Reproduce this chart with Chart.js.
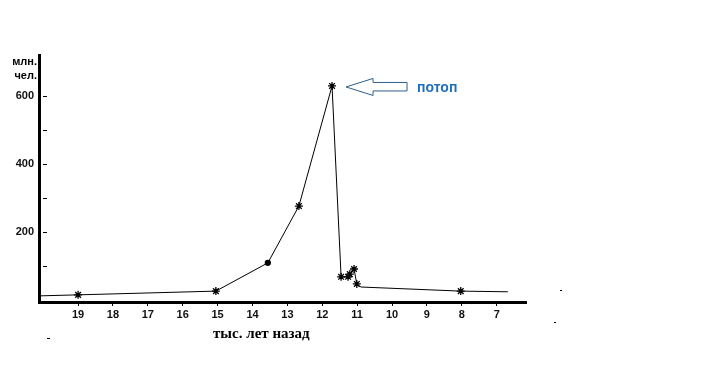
<!DOCTYPE html>
<html>
<head>
<meta charset="utf-8">
<script src="https://cdn.jsdelivr.net/npm/chart.js@4/dist/chart.umd.min.js"></script>
<style>
  html, body { margin: 0; padding: 0; background: #fff; }
  #wrap { width: 712px; height: 376px; }
</style>
</head>
<body>
<div id="wrap"><canvas id="chart" width="712" height="376"></canvas></div>
<script>
// thousand years ago (x) and population, mln (y)
const years = [20.12, 19, 15.05, 13.56, 12.67, 11.72, 11.46, 11.26, 11.21, 11.09, 11.01, 10.89, 8.03, 6.68]
const population = [12, 15, 26, 109, 276, 629, 68, 68, 76, 91, 47, 38, 26, 24]
const xTickLabels = [19, 18, 17, 16, 15, 14, 13, 12, 11, 10, 9, 8, 7]
const yTickValues = [100, 200, 300, 400, 500, 600]
const yLabelled = [200, 400, 600]

const unmarked = [0, 11, 13]
const dotMarked = [3]
const peakIndex = population.indexOf(Math.max(...population))

const decorations = {
  id: 'decorations',
  afterDraw (chart) {
    const { ctx, scales } = chart
    const y = scales.y
    const x = scales.x
    ctx.save()

    // short tick dashes right of the y axis
    ctx.fillStyle = '#000'
    yTickValues.forEach(v => {
      const py = Math.round(y.getPixelForValue(v))
      ctx.fillRect(43, py, 4, 1)
    })

    // axis unit
    ctx.font = 'bold 11px "Liberation Sans", Arial, sans-serif'
    ctx.textAlign = 'right'
    ctx.textBaseline = 'middle'
    ctx.fillText('млн.', 37, 62)
    ctx.fillText('чел.', 37, 76)

    // x axis title
    ctx.font = 'bold 15px "Liberation Serif", "Times New Roman", serif'
    ctx.textAlign = 'left'
    ctx.fillText('тыс. лет назад', 213, 334)

    // stray marks
    ctx.fillRect(47, 338, 3, 1)
    ctx.fillRect(560, 290, 2, 1)
    ctx.fillRect(554, 322, 2, 1)

    // arrow pointing at the peak
    const tipX = x.getPixelForValue(years[peakIndex]) + 14
    const tipY = y.getPixelForValue(population[peakIndex]) + 1
    ctx.strokeStyle = '#2f5f8c'
    ctx.lineWidth = 1
    ctx.beginPath()
    ctx.moveTo(tipX, tipY)
    ctx.lineTo(tipX + 27, tipY - 8.5)
    ctx.lineTo(tipX + 27, tipY - 4.5)
    ctx.lineTo(tipX + 61, tipY - 4.5)
    ctx.lineTo(tipX + 61, tipY + 4)
    ctx.lineTo(tipX + 27, tipY + 4)
    ctx.lineTo(tipX + 27, tipY + 8.5)
    ctx.closePath()
    ctx.stroke()

    ctx.fillStyle = '#1f6fbf'
    ctx.font = 'bold 14px "Liberation Sans", Arial, sans-serif'
    ctx.textAlign = 'left'
    ctx.fillText('потоп', tipX + 71, tipY + 1)

    ctx.restore()
  }
}

const points = years.map((t, i) => ({ x: t, y: population[i] }))

new Chart(document.getElementById('chart'), {
  type: 'line',
  data: {
    datasets: [{
      data: points,
      borderColor: '#000',
      borderWidth: 1,
      tension: 0,
      pointStyle: ctx => dotMarked.includes(ctx.dataIndex) ? 'circle' : 'star',
      pointRadius: ctx => unmarked.includes(ctx.dataIndex) ? 0 : (dotMarked.includes(ctx.dataIndex) ? 2.5 : 4),
      pointBorderWidth: 1.3,
      pointBorderColor: '#000',
      pointBackgroundColor: '#000'
    }]
  },
  options: {
    responsive: false,
    animation: false,
    layout: {
      padding: { left: 0, right: 186, top: 55, bottom: 44 }
    },
    scales: {
      x: {
        type: 'linear',
        reverse: true,
        min: 6.16,
        max: 20.12,
        afterBuildTicks: scale => { scale.ticks = xTickLabels.map(v => ({ value: v })) },
        afterFit: scale => { scale.height = 30 },
        border: { display: true, color: '#000', width: 3 },
        grid: { drawOnChartArea: false, drawTicks: true, tickLength: 4, color: '#000', lineWidth: 1 },
        ticks: {
          color: '#111',
          padding: 2,
          maxRotation: 0,
          autoSkip: false,
          font: { family: '"Liberation Sans", Arial, sans-serif', size: 11, weight: 'bold' }
        }
      },
      y: {
        min: -6,
        max: 720,
        afterBuildTicks: scale => { scale.ticks = yTickValues.map(v => ({ value: v })) },
        afterFit: scale => { scale.width = 39 },
        border: { display: true, color: '#000', width: 3 },
        grid: { display: false, drawTicks: false },
        ticks: {
          color: '#111',
          padding: 5,
          autoSkip: false,
          callback: v => yLabelled.includes(v) ? String(v) : '',
          font: { family: '"Liberation Sans", Arial, sans-serif', size: 11, weight: 'bold' }
        }
      }
    },
    plugins: {
      legend: { display: false },
      tooltip: { enabled: false }
    }
  },
  plugins: [decorations]
})
</script>
</body>
</html>
